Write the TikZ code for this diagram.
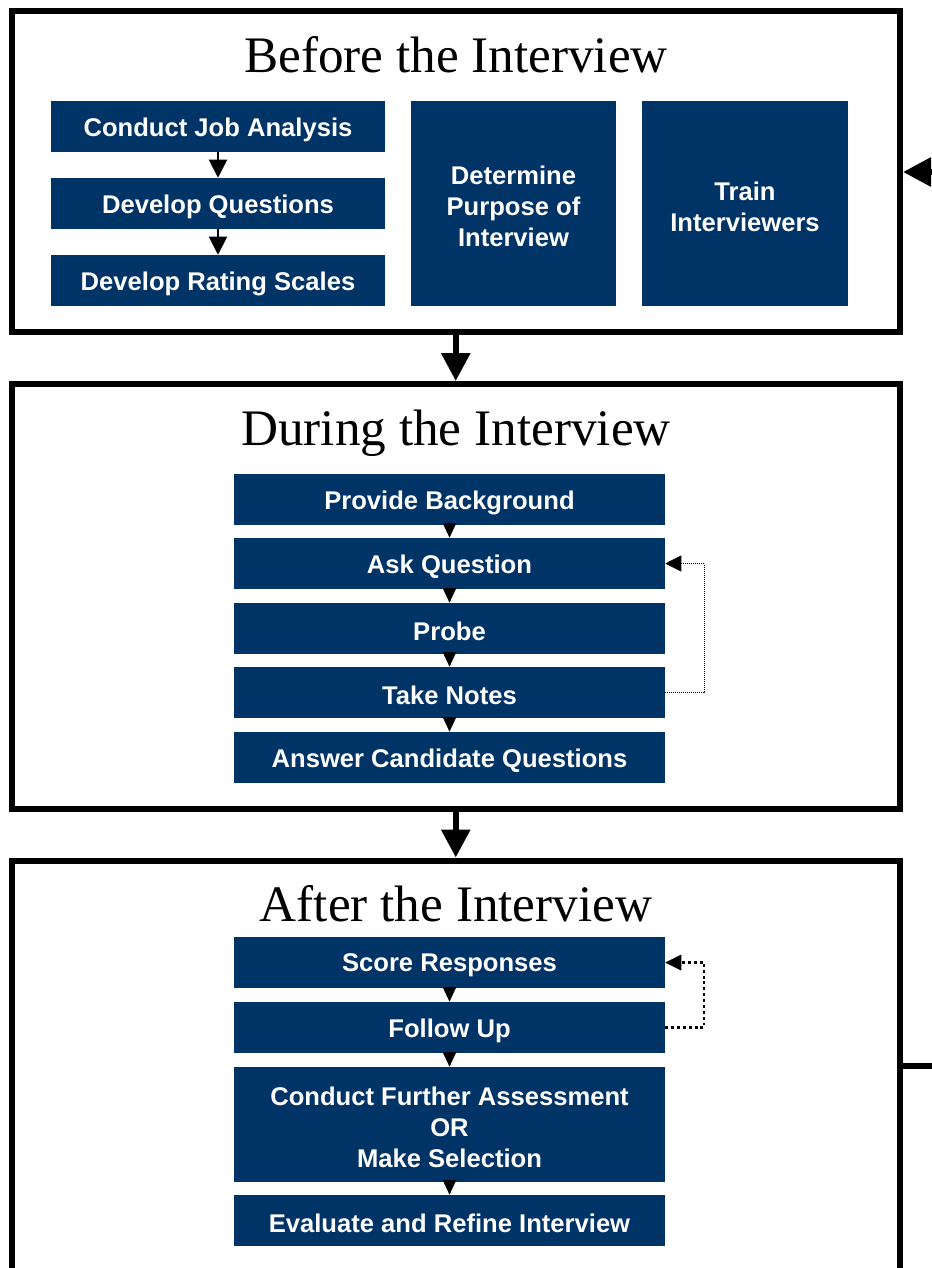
\documentclass[tikz,border=0pt]{standalone}
\usepackage{fontspec}
\setmainfont{Liberation Serif}
\newfontfamily\boxfont{Liberation Sans}
\usetikzlibrary{arrows.meta}
\definecolor{navy}{RGB}{0,51,102}
\tikzset{
  outerbox/.style 2 args={draw=black, line width=4.5pt, minimum width=#1*0.75pt, minimum height=#2*0.75pt, inner sep=0pt},
  nbox/.style 2 args={fill=navy, minimum width=#1*0.75pt, minimum height=#2*0.75pt, inner sep=0pt},
  lab/.style={text=white, align=center, inner sep=0pt, yshift=-2.4pt,
    font=\boxfont\bfseries\fontsize{19.2}{23.25}\selectfont},
  title/.style={anchor=base, font=\fontsize{38.4}{40}\selectfont},
  bigarrow/.style={line width=4.5pt, -{Triangle[length=21pt,width=21pt]}},
  smallarrow/.style={line width=1.5pt, -{Triangle[length=13.5pt,width=13.5pt]}},
  tinyarrow/.style={line width=1pt, -{Triangle[length=11pt,width=10pt]}},
  loopthin/.style={line width=0.75pt, dash pattern=on 0.75pt off 0.75pt, -{Triangle[length=12pt,width=12pt]}},
  loopthick/.style={line width=1.8pt, dash pattern=on 2.2pt off 2.2pt, -{Triangle[length=12pt,width=12pt,line width=0pt]}},
}
\begin{document}
\begin{tikzpicture}[x=0.75pt,y=-0.75pt]
\useasboundingbox (0,0) rectangle (932,1268);
% outer boxes
\node[outerbox={888.5}{321}] (B1) at (455.75,171.5) {};
\node[outerbox={888.5}{425}] (B2) at (455.75,596.5) {};
\node[outerbox={888.5}{470}] (B3) at (455.75,1095.5) {};
% titles
\node[title] (T1) at (456,72) {Before the Interview};
\node[title] (T2) at (456,445) {During the Interview};
\node[title] (T3) at (456,921) {After the Interview};
% before
\node[nbox={334}{51}, label={[lab]center:Conduct Job Analysis}] (cja) at (218,126.5) {};
\node[nbox={334}{51}, label={[lab]center:Develop Questions}] (dq) at (218,203.5) {};
\node[nbox={334}{51}, label={[lab]center:Develop Rating Scales}] (drs) at (218,280.5) {};
\node[nbox={205}{205}, label={[lab]center:Determine\\Purpose of\\Interview}] (dp) at (513.5,203.5) {};
\node[nbox={206}{205}, label={[lab]center:Train\\Interviewers}] (ti) at (745,203.5) {};
\draw[smallarrow] (cja.south) -- (dq.north);
\draw[smallarrow] (dq.south) -- (drs.north);
% during
\node[nbox={431}{51}, label={[lab]center:Provide Background}] (pb) at (449.5,499.5) {};
\node[nbox={431}{51}, label={[lab]center:Ask Question}] (aq) at (449.5,563.5) {};
\node[nbox={431}{51}, label={[lab]center:Probe}] (pr) at (449.5,628.5) {};
\node[nbox={431}{51}, label={[lab]center:Take Notes}] (tn) at (449.5,692.5) {};
\node[nbox={431}{51}, label={[lab]center:Answer Candidate Questions}] (acq) at (449.5,757.5) {};
\draw[tinyarrow] (pb.south) -- (aq.north);
\draw[tinyarrow] (aq.south) -- (pr.north);
\draw[tinyarrow] (pr.south) -- (tn.north);
\draw[tinyarrow] (tn.south) -- (acq.north);
\draw[loopthin] (tn.east) -- ++(39,0) |- (aq.east);
% after
\node[nbox={431}{51}, label={[lab]center:Score Responses}] (sr) at (449.5,962.5) {};
\node[nbox={431}{51}, label={[lab]center:Follow Up}] (fu) at (449.5,1027.5) {};
\node[nbox={431}{115}, label={[lab]center:Conduct Further Assessment\\OR\\Make Selection}] (cfa) at (449.5,1124.5) {};
\node[nbox={431}{51}, label={[lab]center:Evaluate and Refine Interview}] (eri) at (449.5,1220.5) {};
\draw[tinyarrow] (sr.south) -- (fu.north);
\draw[tinyarrow] (fu.south) -- (cfa.north);
\draw[tinyarrow] (cfa.south) -- (eri.north);
\draw[loopthick] (fu.east) -- ++(39,0) |- (sr.east);
% between phases
\draw[bigarrow] (B1.south) -- (B2.north);
\draw[bigarrow] (B2.south) -- (B3.north);
% outer feedback loop
\coordinate (r1) at (980,1066);
\coordinate (r2) at (980,172);
\draw[bigarrow] (B3.east |- r1) -- (r1) -- (r2) -- (B1.east |- r2);
\end{tikzpicture}
\end{document}
